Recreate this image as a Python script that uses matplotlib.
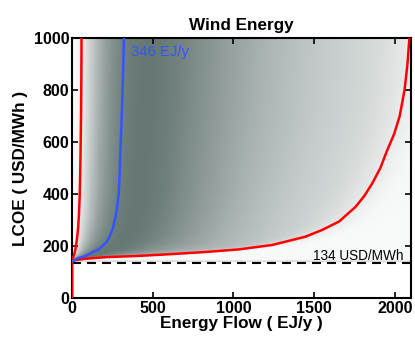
import numpy as np
import matplotlib
matplotlib.use('Agg')
import matplotlib.pyplot as plt
from matplotlib.colors import LinearSegmentedColormap

# Percentile curves (energy flow EJ/y vs LCOE USD/MWh)
q05_flow = [0, 0, 3, 8, 16, 22, 28, 33, 38, 43, 47, 50, 53, 56, 58, 59]
q05_lcoe = [0, 140, 147, 158, 172, 190, 215, 240, 270, 320, 380, 450, 560, 700, 850, 1000]

q50_flow = [0, 5, 21, 40, 70, 83, 110, 132, 165, 194, 215, 236, 253, 267, 279,
            289, 294, 300, 306, 311, 317, 322]
q50_lcoe = [140, 141, 148, 153, 159, 162, 170, 178, 187, 203, 215, 240, 268, 305, 345,
            400, 454, 569, 660, 760, 880, 1000]

q95_flow = [0, 0, 21, 83, 207, 413, 620, 827, 1034, 1240, 1447, 1550, 1654, 1757,
            1810, 1860, 1910, 1953, 1995, 2030, 2060, 2078, 2090]
q95_lcoe = [0, 140, 146, 151, 157, 162, 169, 177, 187, 204, 236, 262, 294, 351,
            392, 441, 500, 569, 630, 700, 800, 900, 1000]

floor_lcoe = 134
median_label = '346 EJ/y'
floor_label = '134 USD/MWh'

# Shading: per LCOE row, a skewed bump in log(flow) placed from the three curves
xs = np.linspace(0, 2100, 700)
ys = np.linspace(0, 1000, 500)
dens = np.full((len(ys), len(xs)), np.nan)
lx = np.log(np.maximum(xs, 0.1))
for i, y in enumerate(ys):
    if y < 141:
        continue
    lo = max(np.interp(y, q05_lcoe, q05_flow), 0.5)
    med = max(np.interp(y, q50_lcoe, q50_flow), 1.0)
    hi = max(np.interp(y, q95_lcoe, q95_flow), med * 1.05)
    span_r = np.log(hi / med)
    span_l = np.log(med / lo)
    centre = np.log(med) + 0.2 * span_r
    s_l = 0.55 * span_l
    s_r = span_r * (0.45 + 0.3 * np.exp(-(y - 140) / 60))
    z = np.where(lx < centre, (lx - centre) / s_l, (lx - centre) / s_r)
    cut = 1 / (1 + np.exp((xs - hi) / (0.04 * hi)))
    dens[i] = np.exp(-0.5 * z ** 2) * cut

cmap = LinearSegmentedColormap.from_list('wind', ['#f8f9f9', '#677875'])

plt.rcParams['font.family'] = 'Liberation Sans'
fig = plt.figure(figsize=(4.15, 3.46), dpi=100)
ax = fig.add_axes([0.1735, 0.1387, 0.8169, 0.7514])

ax.imshow(dens, extent=[0, 2100, 0, 1000], origin='lower', aspect='auto',
          cmap=cmap, vmin=0, vmax=1, interpolation='bilinear', zorder=0)

ax.axhline(floor_lcoe, color='black', lw=1.5, ls=(0, (4.3, 2.9)), zorder=2)
line_kw = dict(lw=1.8, zorder=3, solid_joinstyle='round', solid_capstyle='round')
ax.plot(q05_flow, q05_lcoe, color='#ff0000', **line_kw)
ax.plot(q95_flow, q95_lcoe, color='#ff0000', **line_kw)
ax.plot(q50_flow, q50_lcoe, color='#3355ff', **line_kw)

ax.text(366, 946, median_label, color='#3355ff', fontsize=10.7, va='center', ha='left')
ax.text(2051, 146, floor_label, color='black', fontsize=9.8, va='baseline', ha='right')

ax.set_xlim(0, 2100)
ax.set_ylim(0, 1000)
ax.set_xticks([0, 500, 1000, 1500, 2000])
ax.set_yticks([0, 200, 400, 600, 800, 1000])
ax.tick_params(direction='in', length=4, width=1.2, top=True, right=True,
               labelsize=11.5, pad=2)
for lab in ax.get_xticklabels() + ax.get_yticklabels():
    lab.set_fontweight('bold')
for sp in ax.spines.values():
    sp.set_linewidth(1.5)

ax.set_xlabel('Energy Flow ( EJ/y )', fontsize=12.3, fontweight='bold', labelpad=0)
ax.set_ylabel('LCOE ( USD/MWh )', fontsize=12.3, fontweight='bold', labelpad=4)
ax.set_title('Wind Energy', fontsize=12.3, fontweight='bold', pad=6)

fig.savefig('out.png', dpi=100)
